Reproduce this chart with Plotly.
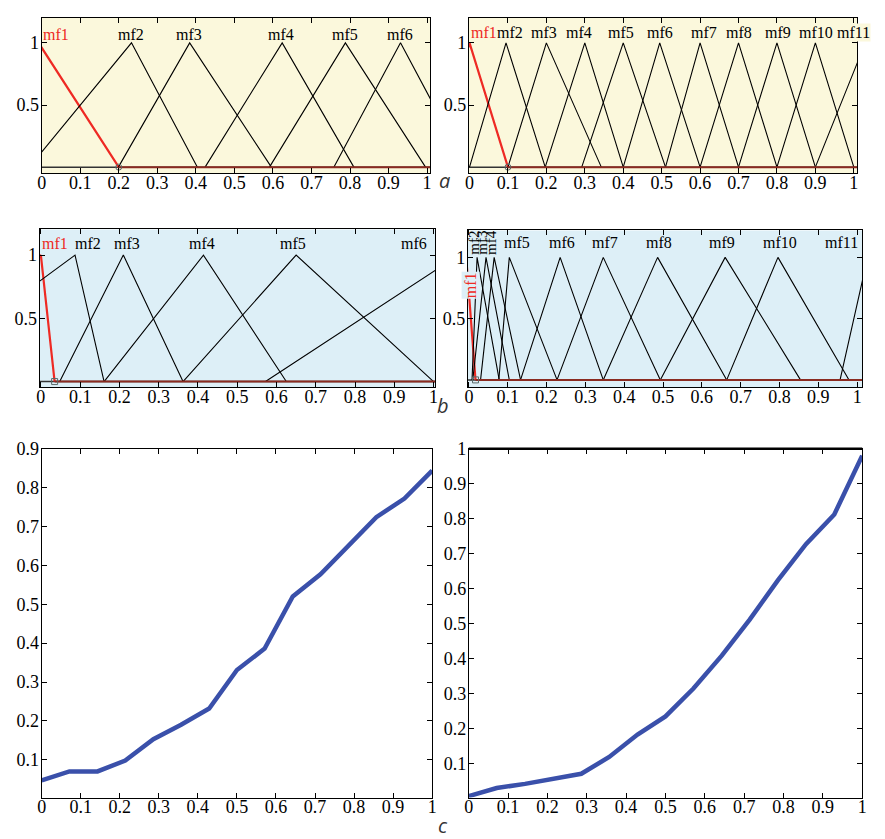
import plotly.graph_objects as go

# the page is shown with the browser's default 8px body margin
PAGE_W, PAGE_H = 885, 839
OFF = 8
W, H = PAGE_W - OFF, PAGE_H - OFF

# ---------------- data ----------------
x_tick_vals = [0, 0.1, 0.2, 0.3, 0.4, 0.5, 0.6, 0.7, 0.8, 0.9, 1.0]
x_tick_text = ["0", "0.1", "0.2", "0.3", "0.4", "0.5", "0.6", "0.7", "0.8", "0.9", "1"]
mf_y_tick_vals = [0.5, 1.0]
mf_y_tick_text = ["0.5", "1"]

# panel a (left): 6 triangular membership functions [left foot, peak, right foot]
a1_names = ["mf1", "mf2", "mf3", "mf4", "mf5", "mf6"]
a1_left = [-0.2, -0.032, 0.199, 0.424, 0.591, 0.758]
a1_peak = [-0.008, 0.233, 0.384, 0.624, 0.788, 0.931]
a1_right = [0.2, 0.404, 0.596, 0.81, 0.996, 1.103]
a1_label_x = [0.0, 0.231, 0.381, 0.621, 0.788, 0.93]

# panel a (right): 11 membership functions
a2_names = ["mf1", "mf2", "mf3", "mf4", "mf5", "mf6", "mf7", "mf8", "mf9", "mf10", "mf11"]
a2_left = [-0.1, 0.0, 0.1, 0.197, 0.292, 0.4, 0.51, 0.6, 0.7, 0.8, 0.9]
a2_peak = [0.0, 0.095, 0.2, 0.3, 0.4, 0.495, 0.6, 0.7, 0.8, 0.9, 1.03]
a2_right = [0.1, 0.197, 0.343, 0.4, 0.51, 0.6, 0.7, 0.8, 0.9, 1.0, 1.16]
a2_label_x = [0.0, 0.105, 0.193, 0.285, 0.393, 0.496, 0.609, 0.7, 0.803, 0.901, 1.0]

# panel b (left): 6 membership functions
b1_names = ["mf1", "mf2", "mf3", "mf4", "mf5", "mf6"]
b1_left = [-0.3, -0.35, 0.048, 0.161, 0.362, 0.572]
b1_peak = [0.0, 0.087, 0.21, 0.414, 0.65, 1.064]
b1_right = [0.035, 0.161, 0.362, 0.625, 1.0, 1.5]
b1_label_x = [0.0, 0.119, 0.22, 0.41, 0.643, 0.95]

# panel b (right): 11 membership functions
b2_names = ["mf1", "mf2", "mf3", "mf4", "mf5", "mf6", "mf7", "mf8", "mf9", "mf10", "mf11"]
b2_left = [-0.05, 0.008, 0.01, 0.03, 0.077, 0.133, 0.227, 0.346, 0.493, 0.664, 0.956]
b2_peak = [-0.007, 0.021, 0.044, 0.065, 0.104, 0.235, 0.346, 0.486, 0.66, 0.796, 1.027]
b2_right = [0.017, 0.078, 0.104, 0.133, 0.227, 0.346, 0.493, 0.664, 0.854, 0.979, 1.1]
b2_label_x = [-0.02, 0.013, 0.034, 0.055, 0.125, 0.24, 0.35, 0.49, 0.652, 0.8, 0.96]

# panel c: output surfaces
c_x = [0.0, 0.071, 0.143, 0.214, 0.286, 0.357, 0.429, 0.5, 0.571, 0.643, 0.714, 0.786, 0.857, 0.929, 1.0]
c1_y = [0.047, 0.070, 0.070, 0.098, 0.153, 0.19, 0.232, 0.331, 0.386, 0.52, 0.577, 0.653, 0.724, 0.772, 0.844]
c2_y = [0.006, 0.029, 0.041, 0.057, 0.070, 0.118, 0.182, 0.234, 0.314, 0.408, 0.511, 0.624, 0.727, 0.812, 0.98]
c1_y_ticks = [0.1, 0.2, 0.3, 0.4, 0.5, 0.6, 0.7, 0.8, 0.9]
c2_y_ticks = [0.1, 0.2, 0.3, 0.4, 0.5, 0.6, 0.7, 0.8, 0.9, 1.0]

# ---------------- styling ----------------
SERIF = "Liberation Serif"
YELLOW = "#FBF8DC"
BLUE = "#DDEFF7"
RED = "#EE2A24"
BASE_RED = "#8A2A20"
LINE_BLUE = "#3A50AA"


def dom_x(px0, px1):
    return [(px0 - OFF) / W, (px1 - OFF) / W]


def dom_y(py_top, py_bot):
    return [1 - (py_bot - OFF) / H, min(1.0, 1 - (py_top - OFF) / H)]


axis_common = dict(
    showline=True, linecolor="black", linewidth=1, mirror="ticks",
    ticks="inside", ticklen=5, tickcolor="black", tickwidth=1,
    showgrid=False, zeroline=False,
    tickfont=dict(family=SERIF, size=18, color="black"),
)
x_axis_common = dict(axis_common, ticklabelstandoff=-7)
y_axis_common = dict(axis_common, ticklabelstandoff=-2)

fig = go.Figure()

panels = [
    # suffix, names, left, peak, right, label_x, xrange, yrange, xdom, ydom, bg, label_y
    ("", a1_names, a1_left, a1_peak, a1_right, a1_label_x, [0, 1.008], [-0.048, 1.20],
     dom_x(37, 430), dom_y(8, 165), YELLOW, 1.07),
    ("2", a2_names, a2_left, a2_peak, a2_right, a2_label_x, [-0.002, 1.009], [-0.048, 1.20],
     dom_x(469, 862), dom_y(8, 165), YELLOW, 1.08),
    ("3", b1_names, b1_left, b1_peak, b1_right, b1_label_x, [-0.003, 1.004], [-0.047, 1.203],
     dom_x(35, 435), dom_y(222, 382), BLUE, 1.09),
    ("4", b2_names, b2_left, b2_peak, b2_right, b2_label_x, [-0.003, 1.013], [-0.062, 1.22],
     dom_x(468, 867), dom_y(223, 382), BLUE, 1.12),
]

annotations = []
shapes = []

for suf, names, lf, pk, rf, lx, xr, yr, xd, yd, bg, ly in panels:
    xa = "x" + suf
    ya = "y" + suf
    fig.add_trace(go.Scatter(x=[xr[0], xr[1] + 0.05], y=[0, 0], mode="lines",
                             line=dict(color="#333333", width=1.5), xaxis=xa, yaxis=ya,
                             showlegend=False, hoverinfo="skip"))
    for i, nm in enumerate(names):
        col = RED if i == 0 else "black"
        wd = 2.2 if i == 0 else 1.1
        fig.add_trace(go.Scatter(x=[lf[i], pk[i], rf[i]], y=[0, 1, 0], mode="lines",
                                 line=dict(color=col, width=wd), xaxis=xa, yaxis=ya,
                                 showlegend=False, name=nm))
    fig.add_trace(go.Scatter(x=[rf[0], xr[1] + 0.05], y=[0, 0], mode="lines",
                             line=dict(color=BASE_RED, width=2), xaxis=xa, yaxis=ya,
                             showlegend=False, hoverinfo="skip"))
    fig.add_trace(go.Scatter(x=[rf[0]], y=[0], mode="markers", cliponaxis=False,
                             marker=dict(symbol="square-open" if suf in ("3", "4") else "circle-open",
                                         size=6, color="#5a6a6a", line=dict(width=1)),
                             xaxis=xa, yaxis=ya, showlegend=False, hoverinfo="skip"))

    for i, nm in enumerate(names):
        col = RED if i == 0 else "black"
        if suf == "4" and i <= 3:
            if i == 0:
                dx = (lx[i] - xr[0]) / (xr[1] - xr[0])
                annotations.append(dict(x=dx, y=0.77, xref=xa + " domain", yref=ya, text=nm,
                                        showarrow=False, textangle=-90,
                                        font=dict(family=SERIF, size=16, color=col),
                                        bgcolor=BLUE, borderpad=0))
            else:
                annotations.append(dict(x=lx[i], y=ly, xref=xa, yref=ya, text=nm, showarrow=False,
                                        textangle=-90, font=dict(family=SERIF, size=15, color=col),
                                        borderpad=0))
            continue
        ann = dict(x=lx[i], y=ly, xref=xa, yref=ya, text=nm, showarrow=False,
                   font=dict(family=SERIF, size=16, color=col), borderpad=0)
        if i == 0:
            ann["xanchor"] = "left"
        if suf == "2" and i == len(names) - 1:
            ann["bgcolor"] = YELLOW
        annotations.append(ann)

    fig.update_layout(**{
        "xaxis" + suf: dict(x_axis_common, domain=xd, range=xr, tickvals=x_tick_vals,
                            ticktext=x_tick_text, anchor=ya),
        "yaxis" + suf: dict(y_axis_common, domain=yd, range=yr, tickvals=mf_y_tick_vals,
                            ticktext=mf_y_tick_text, anchor=xa),
    })
    shapes.append(dict(type="rect", xref=xa + " domain", yref=ya + " domain", x0=0, x1=1, y0=0, y1=1,
                       fillcolor=bg, line=dict(width=0), layer="below"))

# ---- panel c ----
fig.add_trace(go.Scatter(x=c_x, y=c1_y, mode="lines", line=dict(color=LINE_BLUE, width=4.5),
                         xaxis="x5", yaxis="y5", showlegend=False))
fig.add_trace(go.Scatter(x=c_x, y=c2_y, mode="lines", line=dict(color=LINE_BLUE, width=4.5),
                         xaxis="x6", yaxis="y6", showlegend=False))

fig.update_layout(
    xaxis5=dict(x_axis_common, domain=dom_x(37, 432), range=[0, 1], tickvals=x_tick_vals,
                ticktext=x_tick_text, anchor="y5"),
    yaxis5=dict(y_axis_common, domain=dom_y(444, 797), range=[0.003, 0.9], tickvals=c1_y_ticks,
                ticktext=[str(v) for v in c1_y_ticks], anchor="x5"),
    xaxis6=dict(x_axis_common, domain=dom_x(469, 867), range=[0, 1], tickvals=x_tick_vals,
                ticktext=x_tick_text, anchor="y6"),
    yaxis6=dict(y_axis_common, domain=dom_y(444, 797), range=[0.002, 1.0], tickvals=c2_y_ticks,
                ticktext=[("1" if v == 1.0 else str(v)) for v in c2_y_ticks], anchor="x6"),
)
shapes.append(dict(type="line", xref="x6 domain", yref="y6 domain", x0=0, x1=1, y0=1, y1=1,
                   line=dict(color="black", width=2.5)))

for letter, px, py in [("a", 444, 172), ("b", 443, 400), ("c", 443, 825)]:
    annotations.append(dict(x=(px - OFF) / W, y=1 - (py - OFF) / H, xref="paper", yref="paper",
                            text=letter, showarrow=False, xanchor="center", yanchor="middle",
                            font=dict(family="Open Sans", size=20, color="#333333", style="italic")))

fig.update_layout(
    width=W, height=H,
    margin=dict(l=0, r=0, t=0, b=0),
    paper_bgcolor="white", plot_bgcolor="rgba(0,0,0,0)",
    showlegend=False,
    annotations=annotations,
    shapes=shapes,
)

fig.write_html("out.html")
